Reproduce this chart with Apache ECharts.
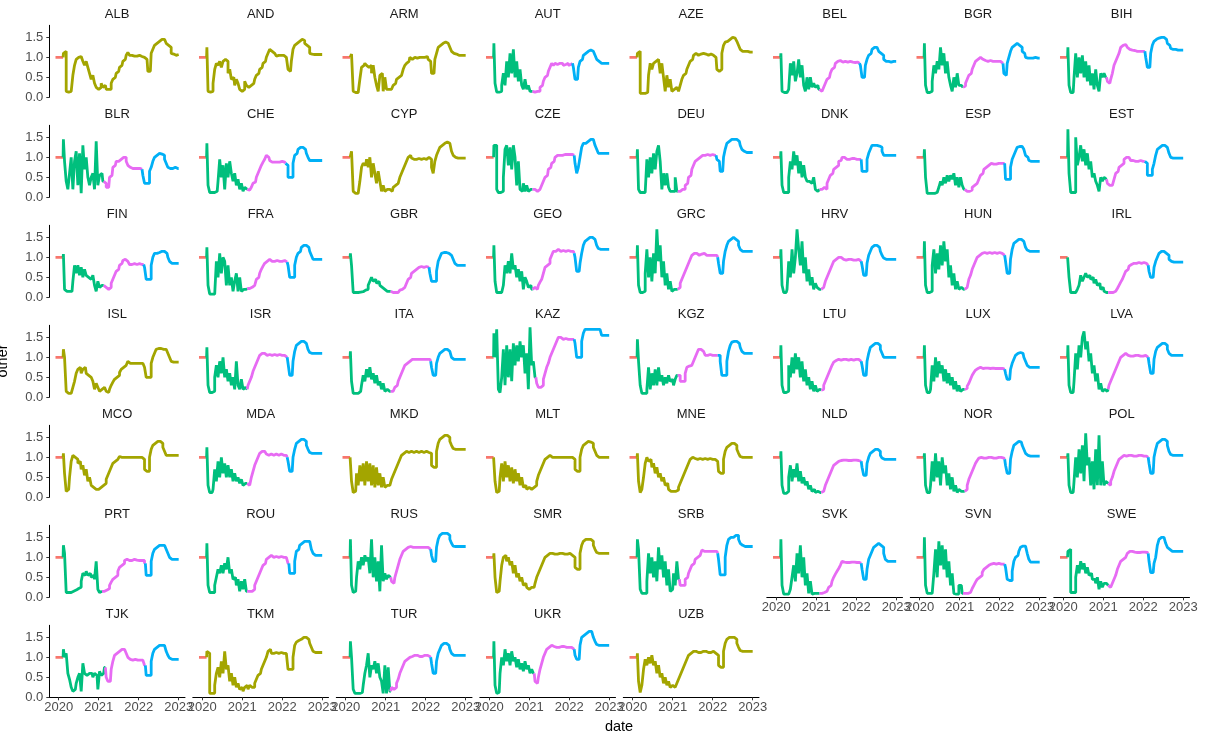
<!DOCTYPE html>
<html><head><meta charset="utf-8">
<script src="https://cdn.jsdelivr.net/npm/echarts@6/dist/echarts.min.js"></script>
<style>html,body{margin:0;padding:0;background:#fff}#c{width:1205px;height:735px}</style>
</head><body><div id="c"></div>
<script>
// ---------- data (values x100, half-month samples from 2020.125) ----------
const countries = ['ALB','AND','ARM','AUT','AZE','BEL','BGR','BIH','BLR','CHE','CYP','CZE','DEU','DNK','ESP','EST','FIN','FRA','GBR','GEO','GRC','HRV','HUN','IRL','ISL','ISR','ITA','KAZ','KGZ','LTU','LUX','LVA','MCO','MDA','MKD','MLT','MNE','NLD','NOR','POL','PRT','ROU','RUS','SMR','SRB','SVK','SVN','SWE','TJK','TKM','TUR','UKR','UZB'];
const oliveCountries = ['ALB','AND','ARM','AZE','CYP','ISL','MCO','MKD','MLT','MNE','SMR','TKM','UZB'];
const firstDate = 2020.125, stepYears = 1/24;
const baselineStart = 2019.92, baselineEnd = 2020.11, baselineValue = 1.0;
const xTicks = [2020, 2021, 2022, 2023];
const yTicks = [0, 0.5, 1.0, 1.5];

const ALB=[110,115,15,13,15,20,55,80,95,100,102,98,90,80,90,75,60,45,55,35,25,20,25,35,25,30,20,20,20,35,45,50,60,65,75,80,90,95,105,112,105,105,103,105,103,105,103,102,100,100,95,65,65,110,120,130,135,140,142,145,145,140,135,130,125,110,108,105,107,107];
const AND=[125,15,13,15,35,70,85,80,90,75,90,95,90,60,70,45,50,30,45,35,20,15,20,40,30,25,30,25,35,45,55,60,70,75,85,90,100,110,120,115,110,105,103,105,105,103,105,100,100,70,65,90,120,130,135,140,145,145,142,135,130,125,110,108,107,105,107,107,107,107];
const ARM=[105,108,15,12,12,15,45,75,80,85,80,75,80,60,80,50,30,15,55,60,15,50,20,20,20,20,30,35,45,50,55,60,70,80,85,90,100,95,100,100,98,100,100,100,100,98,102,95,90,60,60,95,110,125,130,135,135,138,135,130,125,115,110,108,105,105,105,105,105,105];
const AUT=[135,35,13,13,15,30,60,30,90,50,110,60,120,50,90,40,70,30,20,45,20,30,15,15,13,13,15,15,25,30,40,50,55,65,75,85,80,85,82,85,82,85,80,82,85,80,82,85,75,45,45,75,90,95,105,110,115,118,118,115,110,105,95,90,85,85,85,85,85,85];
const AZE=[110,115,10,10,10,12,12,55,85,70,85,90,95,90,60,85,50,15,55,25,45,15,20,25,20,15,30,45,55,60,70,80,90,95,105,110,105,110,108,110,105,108,105,105,108,105,105,100,70,65,70,110,130,138,140,145,150,150,148,145,140,130,120,115,115,115,115,113,113,113];
const BEL=[110,15,12,12,12,20,85,55,90,40,60,95,50,80,30,15,50,20,50,25,35,25,30,20,15,15,25,35,45,50,60,70,75,85,90,92,90,88,90,88,88,90,88,88,87,90,88,85,80,50,50,80,95,105,110,120,125,125,122,115,110,105,95,90,90,88,88,90,90,90];
const BGR=[135,30,12,12,15,40,80,60,90,70,125,80,110,60,90,50,30,15,50,25,60,30,30,25,28,35,45,55,60,70,80,90,95,100,100,95,92,90,90,92,90,90,90,88,90,90,88,85,60,55,85,100,115,125,130,135,135,130,125,115,110,100,98,98,100,98,100,98,98,98];
const BIH=[125,30,12,12,50,110,50,100,60,105,50,90,40,80,30,60,20,70,30,15,60,50,60,50,40,35,45,60,80,90,100,110,125,130,132,130,125,120,118,117,117,115,117,115,115,115,115,100,75,75,110,130,140,145,148,150,150,150,148,145,135,130,122,120,120,120,118,118,118,118];
const BLR=[145,90,40,20,60,100,20,90,115,30,110,10,130,70,100,50,30,50,60,20,140,30,55,60,40,35,25,25,50,55,75,80,90,90,95,100,100,100,90,80,75,72,75,72,72,72,72,70,55,35,35,35,65,75,90,100,105,110,110,108,105,95,85,75,72,72,72,75,72,72];
const CHE=[135,30,12,12,12,12,15,40,95,50,80,20,85,50,90,60,40,60,30,45,20,35,15,25,20,18,18,25,35,38,50,60,70,80,88,95,105,100,92,88,88,90,88,88,88,90,88,85,80,50,50,50,85,105,110,120,125,125,125,120,110,100,92,92,92,92,92,92,92,92];
const CYP=[105,115,15,10,10,10,40,75,85,80,95,75,100,50,85,60,35,65,40,15,30,15,20,20,20,15,25,30,35,35,50,60,70,80,90,100,105,98,95,95,95,97,95,95,97,95,98,100,95,75,60,90,105,115,125,130,135,138,138,135,130,115,105,100,98,98,98,98,98,98];
const CZE=[130,130,20,12,12,15,50,120,130,80,125,70,130,100,30,90,20,15,35,15,30,15,20,20,20,18,15,20,25,30,40,50,55,70,75,85,90,100,105,105,105,105,107,105,107,107,107,107,105,85,60,75,100,125,135,135,140,145,145,145,140,130,120,110,110,110,110,110,110,110];
const DEU=[120,20,12,12,12,12,95,50,100,60,110,70,115,130,90,20,60,30,60,25,15,15,15,50,15,15,18,20,20,30,35,50,55,70,80,90,95,100,105,105,105,105,107,105,105,107,105,105,95,90,65,65,100,120,135,140,145,145,145,145,145,140,130,120,115,112,112,112,112,112];
const DNK=[115,30,12,12,12,50,90,70,115,80,105,60,90,50,80,50,40,40,35,30,50,20,15,20,20,22,25,20,35,45,55,60,70,75,80,90,92,100,100,95,97,95,97,95,97,95,97,95,95,65,65,65,95,110,120,130,130,130,130,128,125,115,105,105,105,105,105,105,105,105];
const ESP=[120,50,10,10,10,10,10,12,15,25,40,30,50,35,55,40,55,45,60,30,50,25,50,30,20,15,15,15,18,25,30,35,40,45,55,60,70,75,80,83,85,83,85,83,85,83,85,85,85,45,45,45,75,95,105,115,125,127,127,125,120,105,100,92,90,90,90,90,90,90];
const EST=[170,60,12,12,12,150,80,100,130,90,120,80,110,70,90,50,60,40,30,15,50,40,50,45,35,30,30,35,45,60,65,75,80,85,95,100,100,95,92,92,90,92,90,92,90,90,90,85,55,55,55,70,85,105,120,125,130,132,130,125,120,110,100,98,98,98,98,98,98,98];
const FIN=[108,20,15,15,15,15,40,80,60,80,55,75,50,70,55,50,45,40,55,30,15,40,25,30,30,25,20,20,25,35,45,55,65,70,80,85,92,95,90,85,82,82,84,82,82,84,82,82,82,75,45,45,45,80,100,110,110,112,115,115,115,112,110,100,90,85,85,85,85,85];
const FRA=[125,30,8,8,8,10,90,50,110,60,100,90,30,80,30,50,15,40,60,15,50,15,20,20,22,22,22,25,30,35,45,50,60,70,78,85,90,95,92,90,90,90,92,90,90,90,92,90,88,80,50,50,50,80,100,110,115,125,130,130,128,125,115,105,95,95,95,95,95,95];
const GBR=[110,80,12,12,12,13,13,14,15,18,20,30,40,50,40,45,35,40,30,25,20,25,15,15,15,12,12,12,12,15,18,20,25,30,35,45,50,60,65,70,75,75,77,75,75,77,75,75,60,40,40,40,65,90,100,110,112,112,112,110,105,100,95,85,80,80,80,80,80,80];
const GEO=[130,40,12,12,12,15,30,80,60,90,60,110,70,80,50,70,40,65,20,50,40,25,30,20,25,22,20,30,38,45,60,75,80,85,95,105,115,115,120,115,115,117,115,115,117,115,115,115,110,100,65,65,85,110,130,140,145,150,150,150,145,140,130,122,120,120,120,120,120,120];
const GRC=[130,30,12,12,15,60,120,50,100,40,110,60,170,90,130,50,90,30,60,20,40,15,20,20,20,25,35,45,55,65,75,85,95,105,110,110,105,105,108,105,110,105,108,105,105,108,105,105,100,85,60,60,90,115,130,140,145,150,150,145,140,130,120,115,115,115,115,115,115,115];
const HRV=[120,30,12,12,20,90,50,120,60,100,170,120,80,140,60,100,40,70,30,50,20,35,25,20,20,25,30,40,50,60,70,80,90,95,100,105,100,95,95,93,95,93,95,93,95,93,95,93,90,80,55,55,85,105,115,125,130,130,130,125,115,105,98,95,95,95,95,95,95,95];
const HUN=[140,30,12,12,15,80,120,60,110,70,130,80,140,90,120,50,80,30,60,20,40,20,25,20,20,25,30,45,55,70,80,90,100,105,110,115,112,110,110,112,110,110,112,110,110,112,110,110,105,90,60,60,95,120,135,140,145,145,145,140,135,125,118,115,115,115,115,115,115,115];
const IRL=[105,50,12,12,12,15,20,30,55,40,50,60,50,55,45,50,35,45,30,35,20,25,15,12,12,12,12,12,15,18,22,30,38,45,55,65,70,78,82,85,85,85,87,85,85,87,85,85,80,65,50,50,75,90,100,110,115,115,115,110,105,95,90,88,88,88,88,88,88,88];
const ISL=[120,100,15,10,10,15,25,40,60,70,75,60,70,75,60,55,50,45,40,20,35,25,15,20,25,20,15,12,20,30,38,45,50,55,62,70,75,80,85,90,85,85,87,85,85,87,85,85,85,75,50,50,50,85,100,110,120,122,122,122,120,120,115,110,100,90,88,88,88,88];
const ISR=[125,30,12,12,15,50,80,50,90,60,100,50,70,40,60,30,50,20,90,30,20,45,20,25,20,30,40,50,65,75,85,95,105,110,110,105,105,107,105,105,107,105,105,107,105,105,105,105,100,85,55,55,90,115,130,135,140,140,140,135,130,120,112,110,110,110,110,110,110,110];
const ITA=[115,40,10,10,10,12,15,30,55,40,70,50,75,45,60,35,55,30,40,20,35,15,20,15,15,15,20,25,30,40,50,60,70,80,85,90,95,95,95,97,95,95,97,95,95,95,95,95,90,75,55,55,85,100,110,115,120,120,120,115,110,100,95,95,95,95,95,95,95,95];
const KAZ=[160,100,170,20,12,50,120,30,130,50,120,40,135,80,130,90,140,100,130,60,110,20,175,80,90,50,35,25,25,30,45,60,75,85,100,110,120,130,140,150,150,145,145,147,145,145,145,145,145,135,100,100,100,140,160,170,170,170,170,170,170,170,170,170,165,155,155,155,155,155];
const KGZ=[145,90,30,10,10,10,20,75,20,60,30,70,30,75,40,55,30,50,35,55,40,45,30,45,55,55,40,40,40,60,75,78,80,85,90,100,110,120,120,115,110,105,105,107,105,105,105,105,105,105,90,55,55,55,90,115,130,138,140,140,138,135,125,115,110,110,110,110,110,110];
const LTU=[130,30,12,12,15,80,50,100,60,110,70,100,50,90,40,70,30,50,20,40,15,30,15,20,18,20,30,40,50,60,70,80,88,92,95,95,93,95,93,95,93,95,95,93,95,95,95,95,90,80,55,55,90,110,125,130,135,135,135,130,120,110,100,100,100,100,100,100,100,100];
const LUX=[130,30,12,12,20,80,40,100,50,90,60,80,40,70,35,60,30,50,20,40,15,30,15,20,20,22,28,35,45,55,62,68,72,75,73,72,73,72,73,72,72,73,72,73,72,72,72,72,70,60,45,45,70,85,95,105,110,112,112,110,100,90,80,75,75,75,75,75,75,75];
const LVA=[130,30,12,12,40,110,70,130,100,150,165,120,140,90,110,60,80,40,60,20,35,15,20,15,20,30,40,50,60,70,80,90,100,105,110,105,105,103,105,103,105,103,105,103,105,103,105,103,100,85,60,60,95,115,125,130,135,135,135,130,120,110,105,105,105,105,105,105,105,105];
const MCO=[110,60,15,20,50,90,105,100,95,85,90,70,80,55,70,40,50,30,25,20,25,20,25,20,30,35,45,55,65,75,85,90,95,100,102,100,100,102,100,100,102,100,100,102,100,100,100,100,95,70,65,65,100,120,130,135,140,140,140,135,125,115,105,105,105,105,105,105,105,105];
const MDA=[125,30,12,12,20,70,40,90,50,100,60,85,50,80,50,70,40,60,40,50,35,45,30,35,35,30,35,50,65,80,90,100,110,115,115,110,108,105,108,105,105,108,105,105,108,105,105,105,100,90,65,65,100,120,135,140,145,145,145,140,130,120,112,110,110,110,110,110,110,110];
const MKD=[105,40,12,15,60,30,80,40,85,30,90,40,85,30,80,25,75,30,60,25,50,25,30,30,35,45,55,65,75,85,95,105,110,115,115,112,115,115,112,115,115,112,115,115,112,115,115,112,110,80,75,75,115,135,145,150,155,155,155,150,140,130,122,120,120,120,120,120,120,120];
const MLT=[105,40,12,15,50,85,40,90,50,80,40,75,35,70,40,60,30,50,25,30,20,25,20,20,25,30,40,55,65,75,85,95,100,105,102,100,100,102,100,100,102,100,100,102,100,100,100,100,95,70,65,65,100,120,130,135,140,140,138,135,125,115,105,100,100,100,100,100,100,100];
const MNE=[110,40,12,20,50,85,100,90,95,75,85,60,75,50,60,40,50,30,35,20,15,15,15,15,18,25,35,45,55,65,75,85,95,100,97,95,95,97,95,95,97,95,95,97,95,95,95,95,90,65,60,60,95,115,125,130,135,135,135,130,120,110,102,100,100,100,100,100,100,100];
const NLD=[115,30,10,10,15,50,80,40,70,50,85,40,65,35,50,30,40,20,30,15,20,12,15,12,12,15,20,30,40,50,60,70,80,85,90,95,92,93,92,93,92,93,92,93,92,93,92,92,90,75,55,55,85,100,110,115,120,120,120,115,105,98,95,95,95,95,95,95,95,95];
const NOR=[110,30,12,12,30,90,40,110,50,90,30,100,60,80,30,60,20,50,15,30,12,20,15,15,15,20,30,45,55,65,75,85,92,98,100,98,100,98,100,98,100,98,100,98,100,98,100,98,95,80,60,60,95,115,130,135,140,140,138,130,120,110,105,103,103,103,103,103,103,103];
const POL=[110,30,12,12,40,100,50,120,60,130,40,160,80,100,30,90,20,120,30,155,30,90,30,40,35,30,40,50,65,75,85,95,100,105,105,103,105,103,105,103,105,103,105,103,105,103,105,103,100,85,60,60,100,120,135,140,145,145,145,140,130,115,107,105,105,105,105,105,105,105];
const PRT=[130,110,12,12,12,12,15,18,20,22,25,40,60,55,65,55,60,50,55,45,90,20,12,15,15,15,18,22,30,38,45,50,55,65,75,80,85,92,95,92,93,92,95,92,93,92,95,92,92,85,55,55,55,90,110,120,125,130,130,130,130,128,120,110,100,95,95,95,95,95];
const ROU=[135,30,12,12,12,30,50,70,60,80,60,85,70,100,60,70,45,50,30,45,15,40,20,45,15,15,15,15,20,30,40,50,60,70,80,85,95,100,105,100,100,102,100,100,102,100,100,100,100,85,60,60,60,90,115,120,130,135,140,140,140,140,135,120,110,105,105,105,105,105];
const RUS=[145,30,12,15,50,90,70,100,80,105,90,100,60,145,50,100,40,90,15,130,40,60,45,55,50,40,35,50,65,80,95,105,115,120,125,130,127,125,127,125,125,127,125,125,127,125,125,125,120,105,90,90,125,145,155,160,160,160,160,155,145,135,128,127,127,127,127,127,127,127];
const SMR=[110,50,12,15,40,80,100,105,90,100,80,90,60,80,50,60,40,50,30,35,25,20,25,20,25,35,50,60,70,80,90,100,105,110,108,110,108,110,108,110,108,110,108,110,108,110,108,105,100,75,70,70,110,130,140,145,145,145,145,140,130,120,112,110,110,110,110,110,110,110];
const SRB=[145,120,20,10,10,10,40,110,60,100,50,90,40,125,70,105,50,90,30,70,15,20,60,30,90,45,30,30,30,45,50,60,70,80,85,95,100,105,110,118,115,115,117,115,115,117,115,115,110,95,56,56,56,100,130,145,150,150,155,155,155,145,135,130,127,127,127,127,127,127];
const SVK=[145,30,8,8,8,8,20,50,80,40,110,60,130,50,100,30,60,10,40,8,10,10,10,10,10,10,12,15,20,25,30,40,50,58,65,72,80,90,88,87,88,87,88,87,88,87,88,87,85,70,45,45,70,95,105,115,125,130,135,135,130,125,110,95,90,90,90,90,90,90];
const SVN=[150,30,10,10,10,10,60,120,50,140,80,130,70,120,50,90,30,60,10,8,8,30,30,10,10,10,10,12,15,22,30,38,45,50,55,62,70,75,80,83,83,85,83,83,85,83,83,83,83,75,45,42,42,65,90,100,105,115,125,128,128,125,110,95,88,88,88,88,88,88];
const SWE=[115,120,12,12,12,50,80,60,90,70,85,60,75,55,60,45,45,35,50,20,40,25,35,35,30,25,25,35,45,55,70,80,90,95,100,105,110,115,115,112,113,112,113,112,113,112,113,112,110,90,62,62,85,100,130,145,150,150,145,135,125,120,115,115,115,115,115,115,115,115];
const TJK=[120,100,110,60,45,25,15,20,35,50,60,15,85,60,55,60,55,60,50,60,55,20,65,55,60,75,50,40,40,70,90,105,110,115,120,120,120,120,110,100,95,93,93,95,93,93,93,93,93,80,55,55,55,90,110,120,125,130,130,130,130,128,115,105,98,95,95,95,95,95];
const TKM=[115,110,10,10,10,30,60,75,50,90,60,115,70,80,40,60,30,50,25,35,20,25,15,25,30,20,30,25,25,35,45,55,60,70,80,90,100,115,120,110,110,112,110,110,112,110,110,110,105,70,70,70,100,130,138,142,145,150,150,150,150,145,135,125,115,112,112,112,112,112];
const TUR=[140,100,20,10,10,10,10,12,30,60,80,110,50,80,70,90,60,85,50,40,10,80,10,75,15,25,20,25,35,45,60,70,80,90,95,100,105,102,105,102,105,102,105,102,105,102,105,102,100,85,60,60,90,110,120,130,135,135,135,130,120,110,105,105,105,105,105,105,105,105];
const UKR=[140,30,10,12,60,100,80,120,90,110,80,115,90,100,75,95,70,85,65,90,70,80,60,70,60,40,35,50,70,85,100,110,120,125,130,130,127,125,127,125,127,125,127,125,127,125,125,125,120,105,95,95,130,150,155,160,165,165,165,160,150,140,132,130,130,130,130,130,130,130];
const UZB=[110,40,12,30,70,95,80,100,85,105,80,90,60,80,50,60,35,50,30,40,25,30,25,30,35,45,55,65,75,85,95,105,110,115,112,115,112,115,112,115,112,115,112,115,112,115,112,110,105,80,75,75,115,135,145,150,150,150,150,145,135,125,117,115,115,115,115,115,115,115];

// sample index where the pink phase and the blue phase begin
const phaseBreaks = {AUT:[23,47],BEL:[23,47],BGR:[23,47],BIH:[23,46],BLR:[24,47],CHE:[24,47],CZE:[23,48],DEU:[24,47],DNK:[23,48],ESP:[24,48],EST:[23,46],FIN:[24,48],FRA:[24,48],GBR:[24,47],GEO:[23,48],GRC:[24,48],HRV:[24,48],HUN:[24,48],IRL:[24,48],ISR:[24,48],ITA:[24,48],KAZ:[25,48],KGZ:[24,48],LTU:[24,48],LUX:[24,48],LVA:[24,48],MDA:[24,48],NLD:[24,48],NOR:[24,48],POL:[24,48],PRT:[23,49],ROU:[24,49],RUS:[24,48],SRB:[25,48],SVK:[23,48],SVN:[23,48],SWE:[24,48],TJK:[25,49],TUR:[24,48],UKR:[24,48]};

const valueTable = {ALB,AND,ARM,AUT,AZE,BEL,BGR,BIH,BLR,CHE,CYP,CZE,DEU,DNK,ESP,EST,FIN,FRA,GBR,GEO,GRC,HRV,HUN,IRL,ISL,ISR,ITA,KAZ,KGZ,LTU,LUX,LVA,MCO,MDA,MKD,MLT,MNE,NLD,NOR,POL,PRT,ROU,RUS,SMR,SRB,SVK,SVN,SWE,TJK,TKM,TUR,UKR,UZB};

// ---------- layout ----------
const COLORS = {red:'#F8766D', olive:'#A3A500', green:'#00BF7D', blue:'#00B0F6', pink:'#E76BF3'};
const NCOL = 8, X0 = 49.3, COLSTEP = 143.5, PW = 135.7, Y0 = 25.3, ROWSTEP = 100, PH = 72;
const FONT = 'Liberation Sans, Arial, sans-serif';
const LW = 2.8;

const grids = [], xAxes = [], yAxes = [], series = [], graphics = [];
countries.forEach((name, i) => {
  const r = Math.floor(i / NCOL), c = i % NCOL;
  const left = X0 + c * COLSTEP, top = Y0 + r * ROWSTEP;
  grids.push({left, top, width: PW, height: PH, containLabel: false});
  const bottomPanel = i + NCOL >= countries.length;
  xAxes.push({
    type: 'value', gridIndex: i, min: 2019.765, max: 2023.158, show: bottomPanel,
    splitLine: {show: false},
    axisLine: {show: true, onZero: false, lineStyle: {color: '#000', width: 1}},
    axisTick: {show: true, length: 3, customValues: xTicks, lineStyle: {color: '#333', width: 1}},
    axisLabel: {show: true, customValues: xTicks, margin: 4, fontSize: 13, color: '#4D4D4D', fontFamily: FONT, formatter: v => String(v)}
  });
  yAxes.push({
    type: 'value', gridIndex: i, min: 0, max: 1.8, show: c === 0,
    splitLine: {show: false},
    axisLine: {show: true, onZero: false, lineStyle: {color: '#000', width: 1}},
    axisTick: {show: true, length: 3, customValues: yTicks, lineStyle: {color: '#333', width: 1}},
    axisLabel: {show: true, customValues: yTicks, margin: 6, fontSize: 13, color: '#4D4D4D', fontFamily: FONT, formatter: v => v.toFixed(1)}
  });
  graphics.push({type: 'text', x: left + PW / 2, y: top - 10.5, style: {text: name, fill: '#1A1A1A', font: '13px ' + FONT, textAlign: 'center', textVerticalAlign: 'middle'}, silent: true});

  const vals = valueTable[name];
  const pts = vals.map((v, k) => [firstDate + k * stepYears, v / 100]);
  const base = {type: 'line', xAxisIndex: i, yAxisIndex: i, symbol: 'none', showSymbol: false, silent: true, animation: false, clip: true, step: 'middle'};
  series.push(Object.assign({}, base, {step: false, data: [[baselineStart, baselineValue], [baselineEnd, baselineValue]], lineStyle: {color: COLORS.red, width: LW}}));
  const start = [baselineEnd, baselineValue];
  if (oliveCountries.includes(name)) {
    series.push(Object.assign({}, base, {data: [start].concat(pts), lineStyle: {color: COLORS.olive, width: LW}}));
  } else {
    const [a, b] = phaseBreaks[name];
    series.push(Object.assign({}, base, {data: [start].concat(pts.slice(0, a + 1)), lineStyle: {color: COLORS.green, width: LW}}));
    series.push(Object.assign({}, base, {data: pts.slice(a, b + 1), lineStyle: {color: COLORS.pink, width: LW}}));
    series.push(Object.assign({}, base, {data: pts.slice(b), lineStyle: {color: COLORS.blue, width: LW}}));
  }
});

graphics.push({type: 'text', x: 619, y: 727, style: {text: 'date', fill: '#000', font: '14.5px ' + FONT, textAlign: 'center', textVerticalAlign: 'middle'}, silent: true});
graphics.push({type: 'text', x: 3, y: 361, rotation: Math.PI / 2, style: {text: 'other', fill: '#000', font: '14.5px ' + FONT, textAlign: 'center', textVerticalAlign: 'middle'}, silent: true});

const chart = echarts.init(document.getElementById('c'), null, {renderer: 'canvas', width: 1205, height: 735});
chart.setOption({
  backgroundColor: '#fff', animation: false,
  grid: grids, xAxis: xAxes, yAxis: yAxes, series: series, graphic: graphics
});
</script></body></html>
